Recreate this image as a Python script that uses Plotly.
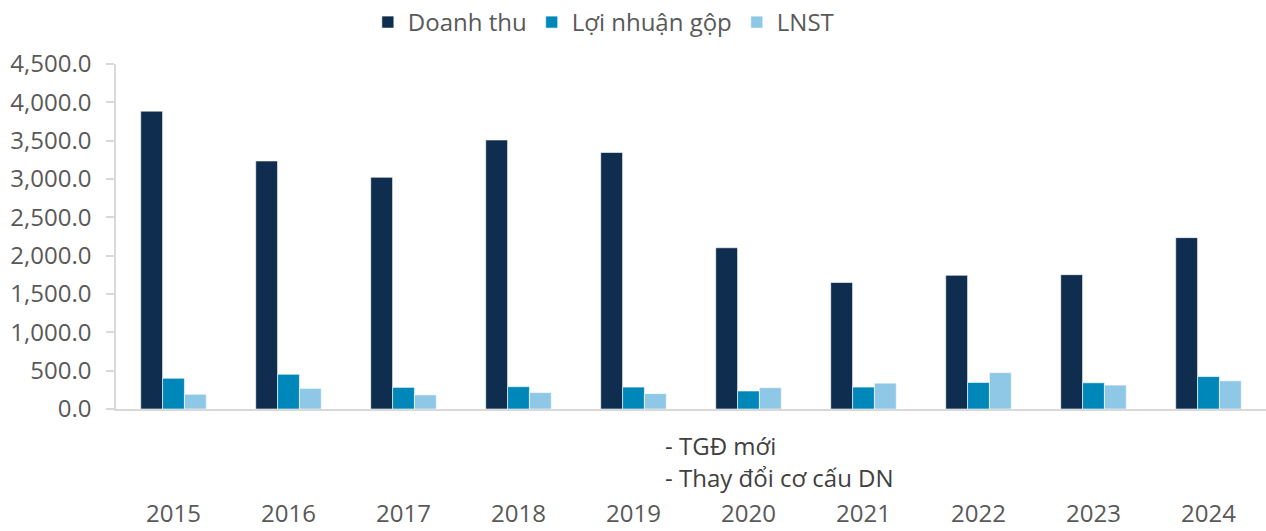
import plotly.graph_objects as go

years = ["2015", "2016", "2017", "2018", "2019", "2020", "2021", "2022", "2023", "2024"]
doanh_thu = [3885, 3235, 3022, 3509, 3346, 2103, 1650, 1744, 1752, 2235]
loi_nhuan_gop = [401, 453, 282, 291, 286, 235, 286, 346, 342, 423]
lnst = [192, 269, 184, 214, 201, 278, 337, 474, 312, 368]

series_names = ["Doanh thu", "Lợi nhuận gộp", "LNST"]
colors = ["#0e2d4f", "#0087b9", "#8fc7e7"]
y_ticks = [0, 500, 1000, 1500, 2000, 2500, 3000, 3500, 4000, 4500]
notes = ["- TGĐ mới", "- Thay đổi cơ cấu DN"]

FONT = "Open Sans"
TXT = "#595959"
FS = 24

fig = go.Figure()
for name, vals, col in zip(series_names, [doanh_thu, loi_nhuan_gop, lnst], colors):
    fig.add_trace(go.Bar(
        x=years, y=vals, name=name,
        marker=dict(color=col, line=dict(color="rgba(255,255,255,0.6)", width=1)),
    ))

fig.update_layout(
    width=1266, height=531,
    margin=dict(l=116, r=0, t=58, b=122),
    paper_bgcolor="white", plot_bgcolor="white",
    barmode="group", bargap=0.43, bargroupgap=0,
    font=dict(family=FONT, size=FS, color=TXT),
    legend=dict(
        orientation="h", x=0.219, xanchor="left", y=1.121, yanchor="middle",
        font=dict(family=FONT, size=FS, color=TXT),
        itemwidth=30, traceorder="normal",
    ),
    showlegend=True,
)

fig.update_yaxes(
    range=[0, 4500], tickvals=y_ticks, tickformat=",.1f",
    showgrid=False, zeroline=False, automargin=False,
    showline=True, linecolor="#d9d9d9", linewidth=1.5,
    ticks="outside", ticklen=8, tickcolor="#d9d9d9", tickwidth=1.5,
    ticklabelstandoff=10,
    tickfont=dict(family=FONT, size=FS, color=TXT),
)
fig.update_xaxes(
    showgrid=False, showline=True, linecolor="#d9d9d9", linewidth=2,
    ticks="", ticklabelstandoff=82, automargin=False,
    tickfont=dict(family=FONT, size=FS, color=TXT),
)

for i, t in enumerate(notes):
    fig.add_annotation(
        text=t, xref="paper", yref="paper",
        x=(663 - 116) / 1150, xanchor="left",
        y=(409 - (446 + 33 * i)) / 351, yanchor="middle",
        showarrow=False, align="left",
        font=dict(family=FONT, size=FS, color="#404040"),
    )

fig.write_html(
    "out.html",
    config={"displayModeBar": False},
    post_script="document.body.style.margin='0';document.body.style.overflow='hidden';",
)
